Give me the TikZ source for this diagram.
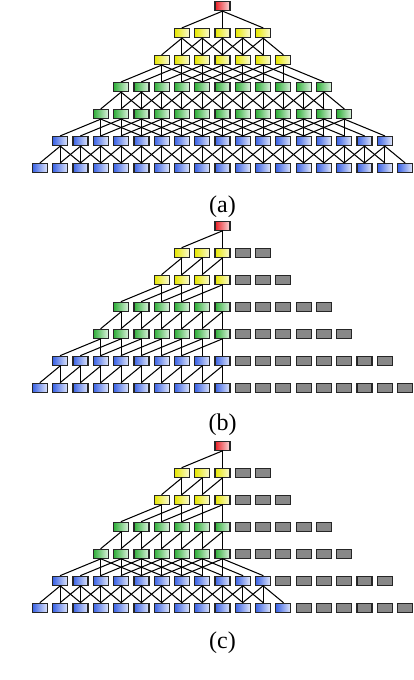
\documentclass[tikz,border=0pt]{standalone}
\usepackage{fontspec}
\setmainfont{Liberation Serif}
\usepackage{xcolor}
\definecolor{redc}{HTML}{E81E24}
\definecolor{yellowc}{HTML}{E6E600}
\definecolor{greenc}{HTML}{2EAE38}
\definecolor{bluec}{HTML}{3A62E4}
\definecolor{grayc}{HTML}{888888}
\tikzset{
  cell/.style={draw=black!85,line width=1.25pt,minimum width=15pt,minimum height=9pt,inner sep=0pt},
  graycell/.style={cell,fill=grayc},
  link/.style={black,line width=1.05pt},
  tag/.style={font=\fontsize{24}{28}\selectfont,inner sep=0pt}
}
% #1 panel name, #2 top row y, #3 rows k/h/r (r = last coloured index), #4 links k/s/lo/hi/full
\newcommand\drawpanel[4]{%
  \foreach \k/\h/\r/\col in {#3} {
    \pgfmathtruncatemacro\lo{9-\h}
    \pgfmathtruncatemacro\hi{9+\h}
    \foreach \i in {\lo,...,\hi} {
      \ifnum\i>\r
        \node[graycell] (#1-\k-\i) at ({40+20.28*\i},{#2+27*\k}) {};
      \else
        \node[cell,left color=\col,right color=\col!15] (#1-\k-\i) at ({40+20.28*\i},{#2+27*\k}) {};
      \fi
    }
  }
  \foreach \k/\s/\lo/\hi/\f in {#4} {
    \pgfmathtruncatemacro\kk{\k+1}
    \foreach \i in {\lo,...,\hi} {
      \pgfmathtruncatemacro\ll{\i-\s}
      \pgfmathtruncatemacro\rr{\i+\s}
      \draw[link] (#1-\k-\i.south) -- (#1-\kk-\ll.north);
      \draw[link] (#1-\k-\i.south) -- (#1-\kk-\i.north);
      \ifnum\f=1
        \draw[link] (#1-\k-\i.south) -- (#1-\kk-\rr.north);
      \fi
    }
  }
}
\begin{document}
\begin{tikzpicture}[x=1pt,y=-1pt,line cap=round]
\useasboundingbox (0,0) rectangle (414,680);
\drawpanel{a}{6}
  {0/0/9/redc,1/2/11/yellowc,2/3/12/yellowc,3/5/14/greenc,4/6/15/greenc,5/8/17/bluec,6/9/18/bluec}
  {0/2/9/9/1,1/1/7/11/1,2/2/6/12/1,3/1/4/14/1,4/2/3/15/1,5/1/1/17/1}
\drawpanel{b}{225.7}
  {0/0/9/redc,1/2/9/yellowc,2/3/9/yellowc,3/5/9/greenc,4/6/9/greenc,5/8/9/bluec,6/9/9/bluec}
  {0/2/9/9/0,1/1/7/9/0,2/2/6/9/0,3/1/4/9/0,4/2/3/9/0,5/1/1/9/0}
\drawpanel{c}{445.7}
  {0/0/9/redc,1/2/9/yellowc,2/3/9/yellowc,3/5/9/greenc,4/6/9/greenc,5/8/11/bluec,6/9/12/bluec}
  {0/2/9/9/0,1/1/7/9/0,2/2/6/9/0,3/1/4/9/0,4/2/3/9/1,5/1/1/11/1}
\node[tag] (tag-a) at (222.5,207) {(a)};
\node[tag] (tag-b) at (222.5,425) {(b)};
\node[tag] (tag-c) at (222.5,643) {(c)};
\end{tikzpicture}
\end{document}
